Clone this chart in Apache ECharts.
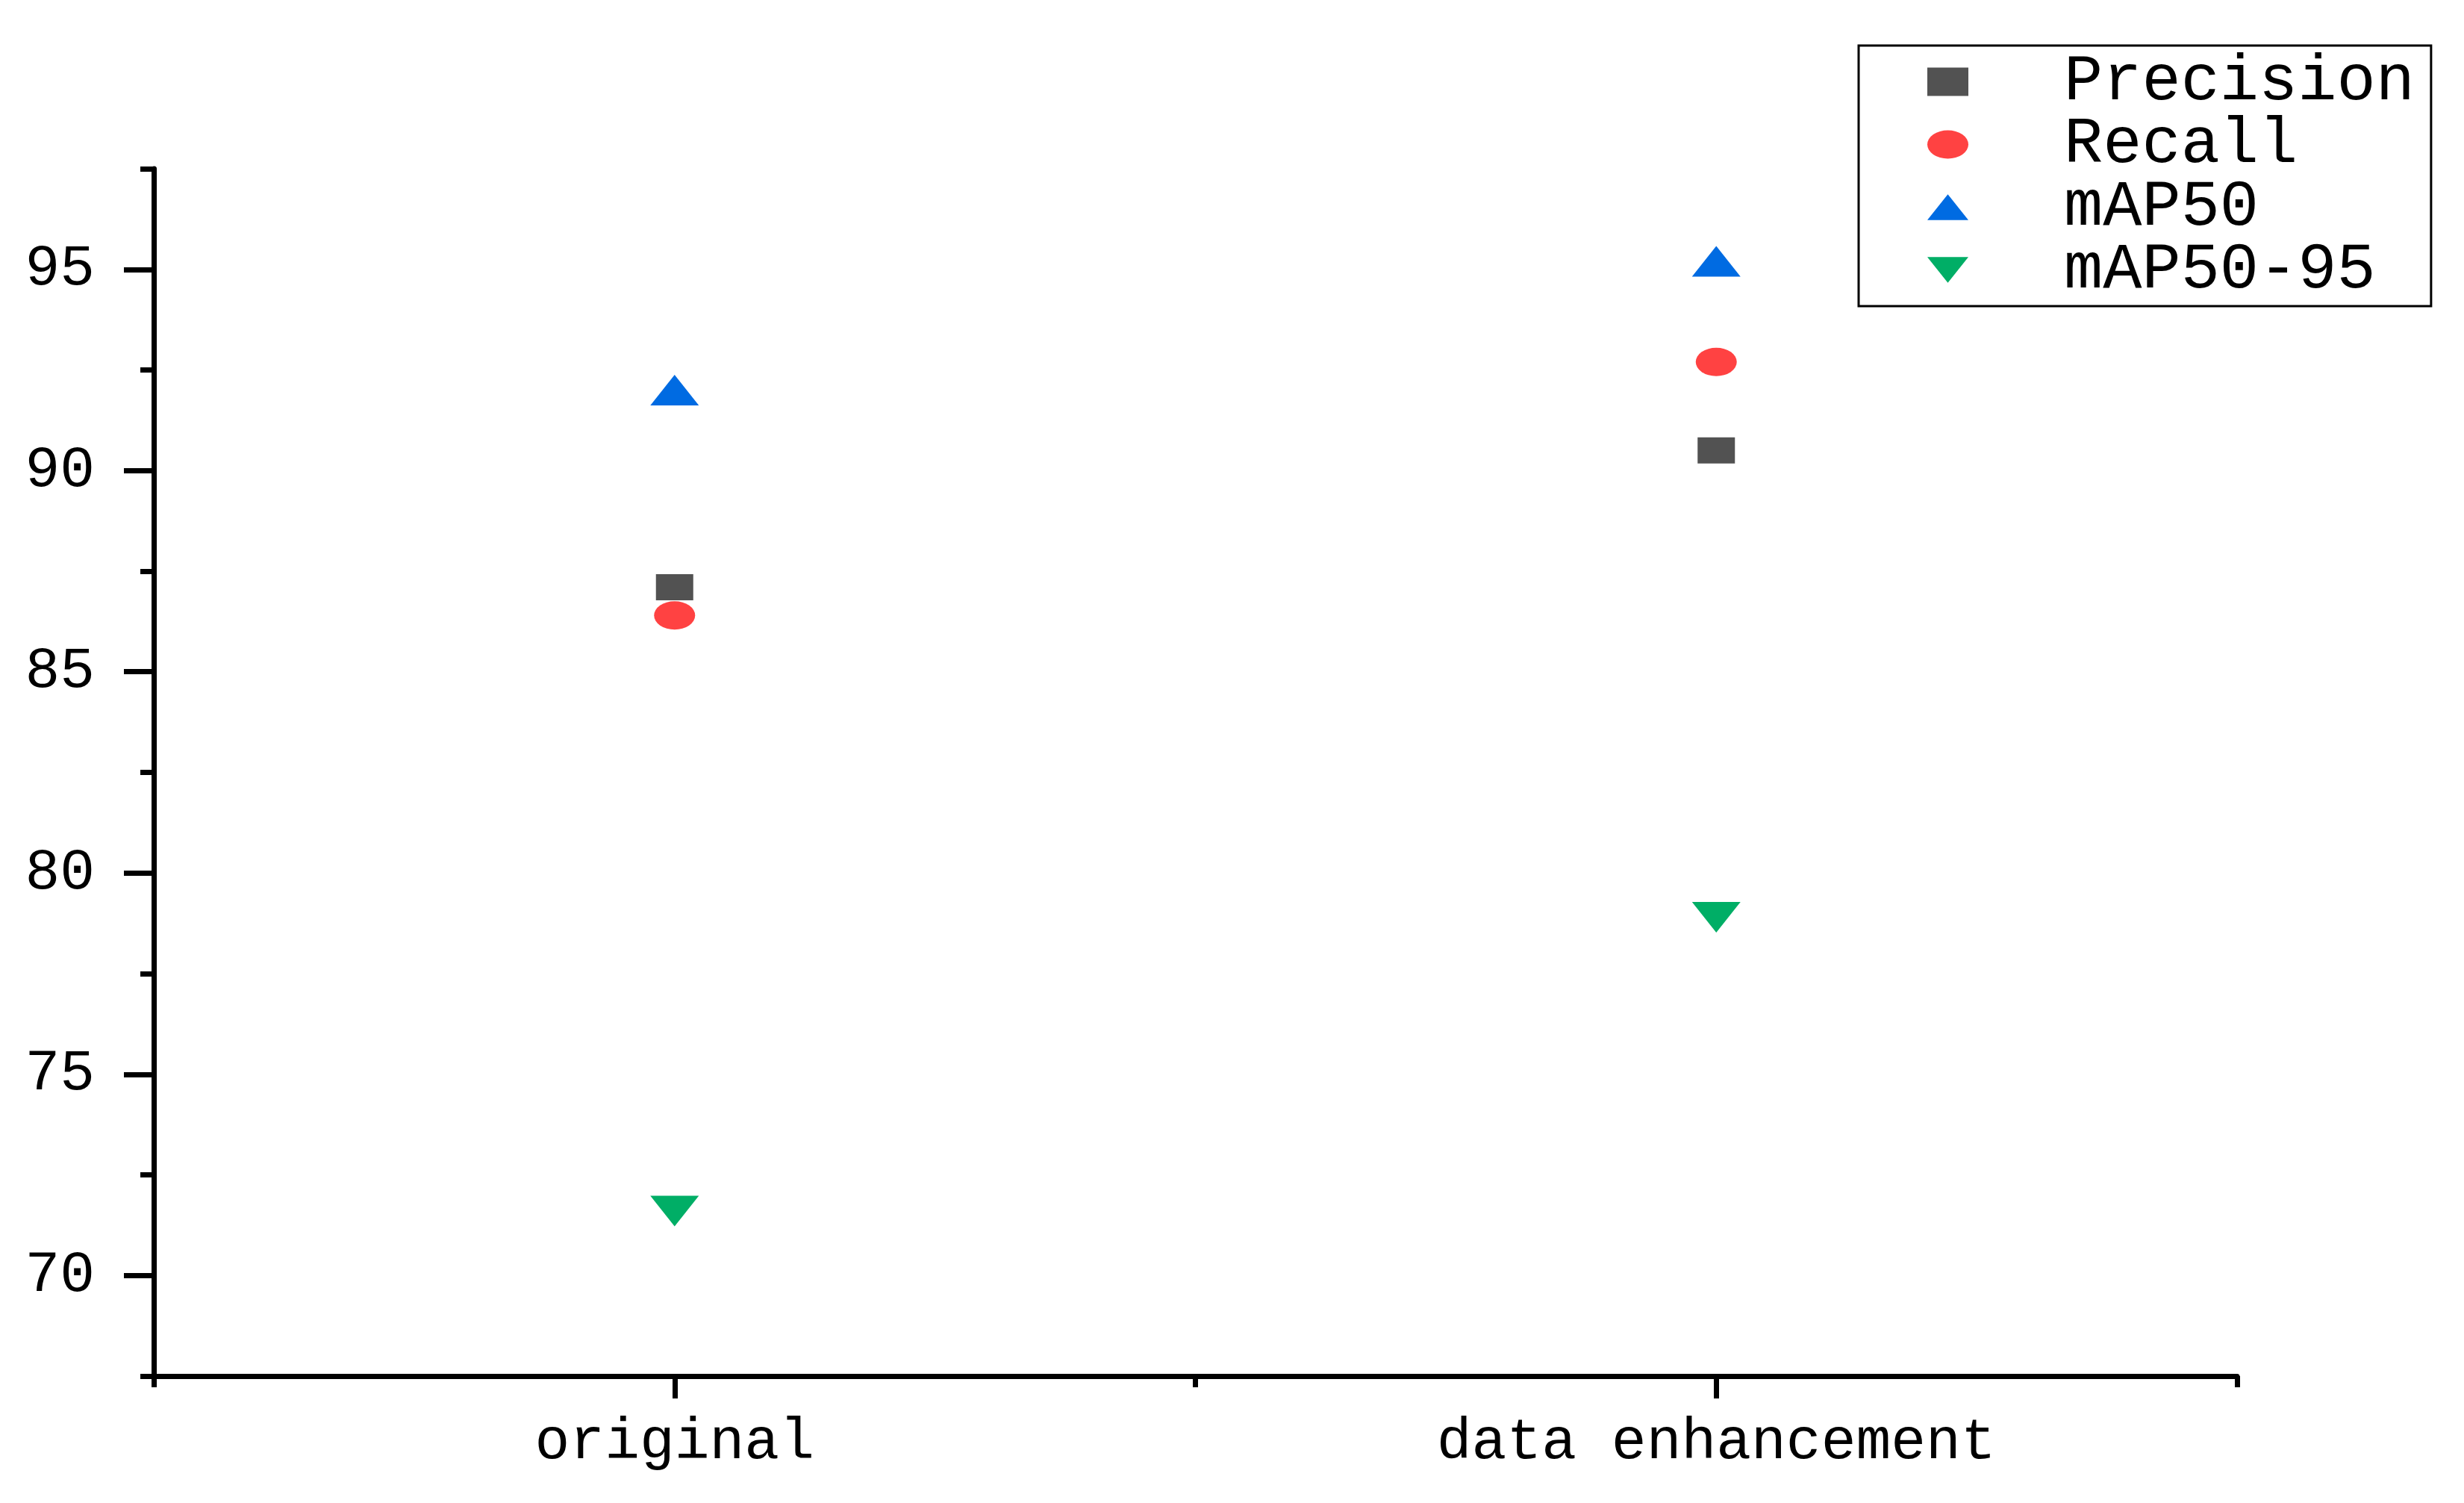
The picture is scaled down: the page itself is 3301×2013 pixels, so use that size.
<!DOCTYPE html>
<html>
<head>
<meta charset="utf-8">
<script src="https://cdn.jsdelivr.net/npm/echarts@6/dist/echarts.min.js"></script>
<style>
html,body{margin:0;padding:0;background:#fff;}
#chart{width:3301px;height:2013px;}
</style>
</head>
<body>
<div id="chart"></div>
<script>
var categories = ['original', 'data enhancement'];
var seriesNames = ['Precision', 'Recall', 'mAP50', 'mAP50-95'];
var precision = [87.1, 90.5];
var recall = [86.4, 92.7];
var map50 = [92.0, 95.2];
var map5095 = [71.6, 78.9];
var yTickLabels = [70, 75, 80, 85, 90, 95];
var yMinorTicks = [67.5, 72.5, 77.5, 82.5, 87.5, 92.5, 97.5];

var FONT = 'Liberation Mono';
function pts(arr) {
  return arr.map(function (v, i) { return [i * 2 + 1, v]; });
}
var chart = echarts.init(document.getElementById('chart'));
var lineStyle = { color: '#000', width: 7 };
var ellipseIcon = 'path://M0,19 A27.5,19 0 1 1 55,19 A27.5,19 0 1 1 0,19 Z';
var downTriIcon = 'path://M0,0 L64,0 L32,40 Z';
var upTriIcon = 'path://M32,0 L64,40 L0,40 Z';
chart.setOption({
  backgroundColor: '#fff',
  animation: false,
  grid: { left: 206, right: 304, top: 226, bottom: 170, containLabel: false },
  legend: {
    orient: 'vertical',
    left: 2490,
    top: 61,
    padding: [5, 22, 5, 92],
    itemWidth: 55,
    itemHeight: 38,
    itemGap: -3,
    borderColor: '#000',
    borderWidth: 3,
    textStyle: { fontFamily: FONT, fontSize: 87, color: '#000', lineHeight: 60, padding: [0, 0, 0, 123] },
    data: [
      { name: seriesNames[0], icon: 'rect' },
      { name: seriesNames[1], icon: ellipseIcon },
      { name: seriesNames[2], icon: upTriIcon },
      { name: seriesNames[3], icon: downTriIcon }
    ]
  },
  xAxis: [{
    type: 'value', min: 0, max: 4, interval: 1,
    axisLine: { show: true, lineStyle: lineStyle },
    axisTick: { show: true, customValues: [1, 3], length: 30, lineStyle: { color: '#000', width: 7 } },
    axisLabel: {
      show: true, customValues: [1, 3], margin: 50,
      fontFamily: FONT, fontSize: 78, color: '#000',
      formatter: function (v) { return categories[(v - 1) / 2]; }
    },
    splitLine: { show: false }
  }, {
    type: 'value', min: 0, max: 4, interval: 2, position: 'bottom',
    axisLine: { show: false },
    axisTick: { show: true, length: 15, lineStyle: { color: '#000', width: 7 } },
    axisLabel: { show: false },
    splitLine: { show: false }
  }],
  yAxis: [{
    type: 'value', min: 67.5, max: 97.5, interval: 2.5,
    axisLine: { show: true, lineStyle: lineStyle },
    axisTick: { show: true, customValues: yTickLabels, length: 40, lineStyle: { color: '#000', width: 7 } },
    axisLabel: { show: true, customValues: yTickLabels, margin: 79, fontFamily: FONT, fontSize: 78, color: '#000' },
    splitLine: { show: false }
  }, {
    type: 'value', min: 67.5, max: 97.5, interval: 2.5, position: 'left',
    axisLine: { show: false },
    axisTick: { show: true, customValues: yMinorTicks, length: 18, lineStyle: { color: '#000', width: 7 } },
    axisLabel: { show: false },
    splitLine: { show: false }
  }],
  series: [
    { name: 'Precision', type: 'scatter', symbol: 'rect', symbolSize: [50, 35], itemStyle: { color: '#525252', opacity: 1 }, data: pts(precision) },
    { name: 'Recall', type: 'scatter', symbol: 'circle', symbolSize: [55, 38], itemStyle: { color: '#FF4242', opacity: 1 }, data: pts(recall) },
    { name: 'mAP50', type: 'scatter', symbol: 'triangle', symbolSize: [65, 41], itemStyle: { color: '#006BE2', opacity: 1 }, data: pts(map50) },
    { name: 'mAP50-95', type: 'scatter', symbol: 'triangle', symbolRotate: 180, symbolSize: [65, 41], itemStyle: { color: '#00AE66', opacity: 1 }, data: pts(map5095) }
  ]
});
</script>
</body>
</html>
